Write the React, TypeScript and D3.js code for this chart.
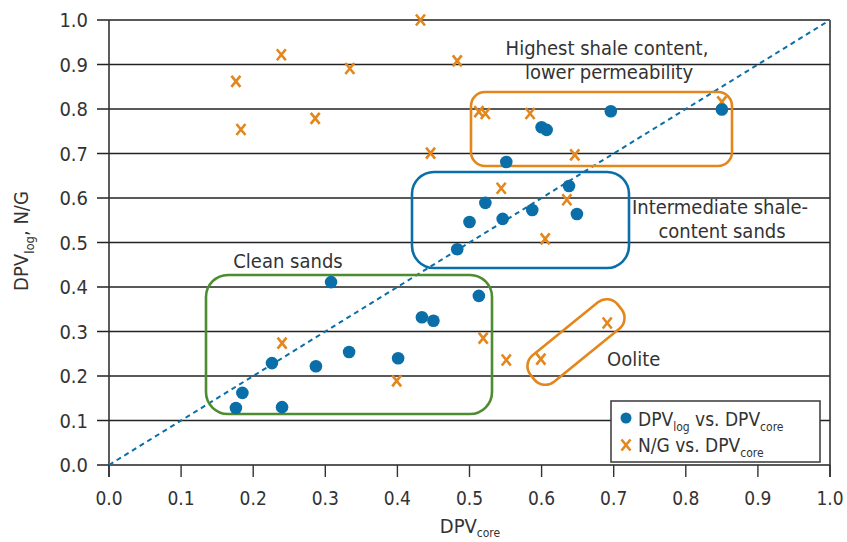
import React from "react";
import * as d3 from "d3";

const logCore = [0.176, 0.185, 0.240, 0.226, 0.287, 0.333, 0.401, 0.308, 0.434, 0.450, 0.513, 0.483, 0.500, 0.522, 0.546, 0.587, 0.638, 0.649, 0.551, 0.600, 0.607, 0.696, 0.850];
const logVal = [0.128, 0.162, 0.130, 0.229, 0.222, 0.254, 0.240, 0.411, 0.332, 0.324, 0.380, 0.485, 0.546, 0.589, 0.553, 0.573, 0.627, 0.564, 0.681, 0.759, 0.753, 0.795, 0.799];

const ngCore = [0.176, 0.183, 0.239, 0.286, 0.334, 0.432, 0.483, 0.446, 0.513, 0.522, 0.584, 0.646, 0.850, 0.544, 0.635, 0.605, 0.240, 0.399, 0.519, 0.551, 0.599, 0.691];
const ngVal = [0.862, 0.754, 0.922, 0.779, 0.891, 1.0, 0.908, 0.701, 0.794, 0.790, 0.790, 0.697, 0.816, 0.622, 0.596, 0.508, 0.274, 0.189, 0.285, 0.236, 0.238, 0.319];

const xTicks = [0, 0.1, 0.2, 0.3, 0.4, 0.5, 0.6, 0.7, 0.8, 0.9, 1.0];
const yTicks = [0, 0.1, 0.2, 0.3, 0.4, 0.5, 0.6, 0.7, 0.8, 0.9, 1.0];

const BLUE = "#0a6fa8";
const ORANGE = "#e3861c";
const GREEN = "#4e8d2f";
const TEXT = "#333";
const FONT = "'Liberation Sans Narrow', 'DejaVu Sans Condensed', 'Arial Narrow', sans-serif";

export default function App() {
  const x = d3.scaleLinear().domain([0, 1]).range([109, 830]);
  const y = d3.scaleLinear().domain([0, 1]).range([465, 20]);
  const diag = d3.line<number>().x((d) => x(d)).y((d) => y(d))([0, 1]) || "";

  const xMark = (cx: number, cy: number, key: string | number) => (
    <path
      key={key}
      d={`M${cx - 4.5},${cy - 5.5}L${cx + 4.5},${cy + 5.5}M${cx + 4.5},${cy - 5.5}L${cx - 4.5},${cy + 5.5}`}
      stroke={ORANGE}
      strokeWidth={2.6}
      fill="none"
    />
  );

  const oc = { x: 576, y: 342 };

  return (
    <svg width={847} height={542} style={{ position: "absolute", left: 0, top: 0, background: "#fff" }} fontFamily={FONT}>
      {yTicks.map((t) => (
        <line key={"g" + t} x1={97} x2={x(1)} y1={y(t)} y2={y(t)} stroke="#222" strokeWidth={1.4} />
      ))}
      <line x1={x(0)} x2={x(0)} y1={y(1)} y2={y(0) + 12} stroke="#333" strokeWidth={1.6} />
      <line x1={x(1)} x2={x(1)} y1={y(1)} y2={y(0) + 12} stroke="#333" strokeWidth={1.6} />
      {xTicks.map((t) => (
        <line key={"xt" + t} x1={x(t)} x2={x(t)} y1={y(0)} y2={y(0) + 12} stroke="#333" strokeWidth={1.4} />
      ))}
      {xTicks.map((t) => (
        <text key={"xl" + t} x={x(t)} y={505} textAnchor="middle" fontSize={19} fill={TEXT}>
          {t.toFixed(1)}
        </text>
      ))}
      {yTicks.map((t) => (
        <text key={"yl" + t} x={88} y={y(t) + 7} textAnchor="end" fontSize={20} fill={TEXT}>
          {t.toFixed(1)}
        </text>
      ))}
      <text x={470} y={533} textAnchor="middle" fontSize={20} fill={TEXT}>
        DPV<tspan fontSize={12} dy={4}>core</tspan>
      </text>
      <text transform="translate(28,241) rotate(-90)" textAnchor="middle" fontSize={20} fill={TEXT}>
        DPV<tspan fontSize={13} dy={6}>log</tspan>
        <tspan dy={-6}>, N/G</tspan>
      </text>

      <path d={diag} stroke={BLUE} strokeWidth={2} strokeDasharray="5,4" fill="none" />

      <rect x={471} y={92} width={261} height={74} rx={14} fill="none" stroke={ORANGE} strokeWidth={2.6} />
      <rect x={412} y={172} width={217} height={96} rx={22} fill="none" stroke={BLUE} strokeWidth={2.6} />
      <rect x={206} y={275} width={286} height={139} rx={22} fill="none" stroke={GREEN} strokeWidth={2.6} />
      <rect
        x={-56}
        y={-17}
        width={112}
        height={34}
        rx={14}
        transform={`translate(${oc.x},${oc.y}) rotate(-39)`}
        fill="none"
        stroke={ORANGE}
        strokeWidth={2.6}
      />

      <text x={607} y={55} textAnchor="middle" fontSize={20} fill={TEXT}>Highest shale content,</text>
      <text x={609} y={79} textAnchor="middle" fontSize={20} fill={TEXT}>lower permeability</text>
      <text x={720} y={214} textAnchor="middle" fontSize={20} fill={TEXT}>Intermediate shale-</text>
      <text x={722} y={238} textAnchor="middle" fontSize={20} fill={TEXT}>content sands</text>
      <text x={288} y={268} textAnchor="middle" fontSize={20} fill={TEXT}>Clean sands</text>
      <text x={607} y={366} textAnchor="start" fontSize={20} fill={TEXT}>Oolite</text>

      {ngCore.map((c, i) => xMark(x(c), y(ngVal[i]), "n" + i))}
      {logCore.map((c, i) => (
        <circle key={"l" + i} cx={x(c)} cy={y(logVal[i])} r={6.3} fill={BLUE} />
      ))}

      <rect x={611} y={401} width={209} height={61} fill="#fff" stroke="#444" strokeWidth={1.6} />
      <circle cx={626} cy={418} r={5.5} fill={BLUE} />
      <text x={638} y={426} fontSize={19} fill={TEXT}>
        DPV<tspan fontSize={12} dy={5}>log</tspan>
        <tspan dy={-5}> vs. DPV</tspan>
        <tspan fontSize={12} dy={5}>core</tspan>
      </text>
      {xMark(626, 445, "lg")}
      <text x={638} y={452} fontSize={19} fill={TEXT}>
        N/G vs. DPV<tspan fontSize={12} dy={5}>core</tspan>
      </text>
    </svg>
  );
}
